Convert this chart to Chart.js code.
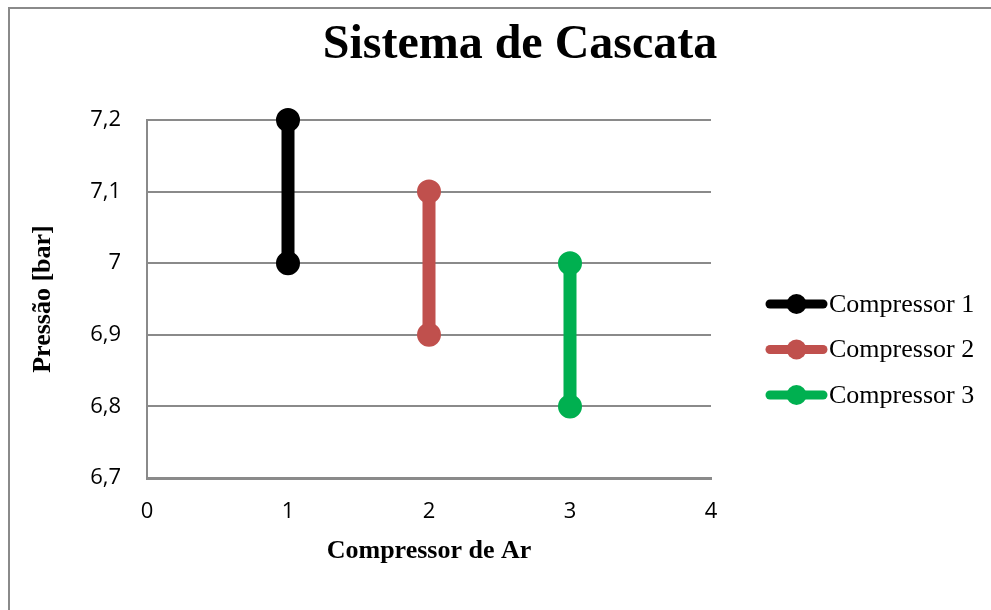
<!DOCTYPE html>
<html>
<head>
<meta charset="utf-8">
<script src="https://cdn.jsdelivr.net/npm/chart.js@4/dist/chart.umd.min.js"></script>
<style>
  html, body { margin: 0; padding: 0; background: #fff; overflow: hidden; }
  #wrap { position: relative; width: 991px; height: 610px; }
</style>
</head>
<body>
<div id="wrap"><canvas id="c" width="991" height="610"></canvas></div>
<script>
// Pressure band (min / max) of each compressor in the cascade
const compressorIndex = [1, 2, 3];
const seriesNames = ['Compressor 1', 'Compressor 2', 'Compressor 3'];
const minPressure = [7.0, 6.9, 6.8];
const maxPressure = [7.2, 7.1, 7.0];
const seriesColors = ['#000000', '#C0504D', '#00B050'];
const xRange = [0, 4];
const yRange = [6.7, 7.2];

const serif = '"Liberation Serif", "Times New Roman", serif';
const sans = '"Open Sans", "Liberation Sans", sans-serif';
const gridGray = '#8a8a8a';

const datasets = compressorIndex.map((x, i) => ({
  label: seriesNames[i],
  data: [{ x: x, y: minPressure[i] }, { x: x, y: maxPressure[i] }],
  showLine: true,
  clip: false,
  borderColor: seriesColors[i],
  backgroundColor: seriesColors[i],
  borderWidth: 13,
  pointRadius: 11,
  pointBorderWidth: 2,
  pointHoverRadius: 11,
  borderCapStyle: 'butt'
}));

// Frame, title and legend drawn directly on the canvas
const decorations = {
  id: 'decorations',
  beforeDraw(chart) {
    const ctx = chart.ctx;
    ctx.save();
    ctx.strokeStyle = gridGray;
    ctx.lineWidth = 2;
    ctx.strokeRect(9, 8, 2000, 2000);
    ctx.restore();
  },
  afterDraw(chart) {
    const ctx = chart.ctx;
    ctx.save();
    ctx.fillStyle = '#000';
    ctx.font = 'bold 48px ' + serif;
    ctx.textAlign = 'center';
    ctx.textBaseline = 'alphabetic';
    ctx.fillText('Sistema de Cascata', 520, 58);

    const x0 = 766, x1 = 827, yStart = 304, step = 45.5;
    chart.data.datasets.forEach((ds, i) => {
      const y = yStart + i * step;
      ctx.strokeStyle = ds.borderColor;
      ctx.lineWidth = 9;
      ctx.lineCap = 'round';
      ctx.beginPath();
      ctx.moveTo(x0 + 4, y);
      ctx.lineTo(x1 - 4, y);
      ctx.stroke();
      ctx.fillStyle = ds.borderColor;
      ctx.beginPath();
      ctx.arc((x0 + x1) / 2, y, 10, 0, Math.PI * 2);
      ctx.fill();
      ctx.fillStyle = '#000';
      ctx.font = '26px ' + serif;
      ctx.textAlign = 'left';
      ctx.textBaseline = 'middle';
      ctx.fillText(ds.label, 829, y + 1);
    });
    ctx.restore();
  }
};

new Chart(document.getElementById('c'), {
  type: 'scatter',
  data: { datasets },
  plugins: [decorations],
  options: {
    responsive: false,
    animation: false,
    events: [],
    layout: { padding: { left: 0, right: 280, top: 120, bottom: 0 } },
    plugins: { legend: { display: false }, tooltip: { enabled: false }, title: { display: false } },
    scales: {
      x: {
        type: 'linear',
        min: xRange[0],
        max: xRange[1],
        afterFit(s) { s.height = 132; },
        ticks: { stepSize: 1, padding: 21, color: '#000', font: { family: sans, size: 22 } },
        grid: { display: false, drawTicks: false },
        border: { display: true, color: gridGray, width: 3 },
        title: {
          display: true,
          text: 'Compressor de Ar',
          color: '#000',
          font: { family: serif, size: 26, weight: 'bold' },
          padding: { top: 0, bottom: 43 }
        }
      },
      y: {
        type: 'linear',
        min: yRange[0],
        max: yRange[1],
        afterFit(s) { s.width = 147; },
        ticks: {
          stepSize: 0.1,
          padding: 26,
          color: '#000',
          font: { family: sans, size: 22 },
          callback: v => String(Number(v.toFixed(1))).replace('.', ',')
        },
        grid: { color: gridGray, lineWidth: 2, drawTicks: false },
        border: { display: true, color: gridGray, width: 2 },
        title: {
          display: true,
          text: 'Pressão [bar]',
          color: '#000',
          font: { family: serif, size: 26, weight: 'bold' },
          padding: { top: 28, bottom: 0 }
        }
      }
    }
  }
});
</script>
</body>
</html>
